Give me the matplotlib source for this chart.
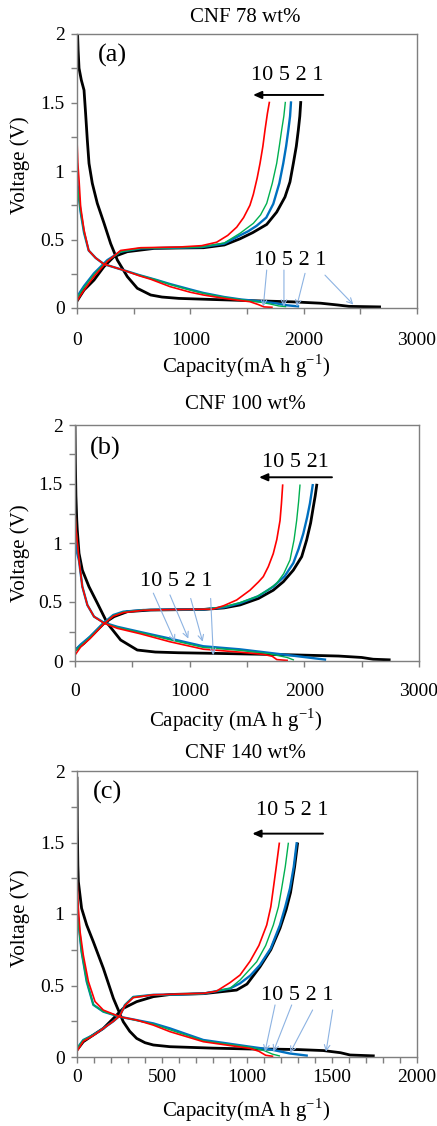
import matplotlib
matplotlib.use('Agg')
import matplotlib.pyplot as plt
from matplotlib.ticker import MultipleLocator

plt.rcParams['font.family'] = 'Liberation Serif'
plt.rcParams['mathtext.fontset'] = 'custom'
plt.rcParams['mathtext.rm'] = 'Liberation Serif'

# ---------------- (a) CNF 78 wt% ----------------
a_dis1_cap = [5, 10, 18, 38, 62, 76, 91, 106, 135, 179, 238, 297, 356, 444, 532, 650, 750, 900, 1200, 1600, 1900, 2150, 2300, 2400, 2670]
a_dis1_v = [2.0, 1.88, 1.75, 1.664, 1.59, 1.42, 1.226, 1.055, 0.91, 0.764, 0.62, 0.47, 0.35, 0.229, 0.144, 0.095, 0.08, 0.07, 0.062, 0.052, 0.045, 0.035, 0.022, 0.012, 0.008]
a_chg1_cap = [0, 30, 62, 150, 238, 326, 444, 680, 900, 1115, 1300, 1438, 1550, 1674, 1762, 1835, 1879, 1909, 1935, 1953, 1966, 1974]
a_chg1_v = [0.05, 0.09, 0.131, 0.204, 0.302, 0.375, 0.411, 0.435, 0.438, 0.44, 0.46, 0.505, 0.55, 0.61, 0.70, 0.81, 0.92, 1.056, 1.18, 1.30, 1.40, 1.5]

a_dis2_cap = [0, 5, 18, 32, 62, 103, 165, 238, 415, 550, 700, 821, 1000, 1115, 1300, 1450, 1600, 1750, 1850, 1950]
a_dis2_v = [1.05, 0.90, 0.80, 0.70, 0.55, 0.42, 0.365, 0.32, 0.275, 0.24, 0.205, 0.175, 0.135, 0.11, 0.08, 0.062, 0.05, 0.035, 0.02, 0.012]
a_chg2_cap = [0, 30, 62, 150, 268, 385, 562, 900, 1100, 1300, 1438, 1510, 1585, 1670, 1732, 1785, 1820, 1845, 1865, 1880, 1888]
a_chg2_v = [0.08, 0.12, 0.16, 0.253, 0.35, 0.411, 0.435, 0.44, 0.445, 0.47, 0.53, 0.56, 0.60, 0.66, 0.76, 0.91, 1.056, 1.18, 1.30, 1.40, 1.5]

a_dis5_cap = [0, 5, 18, 32, 62, 103, 165, 238, 415, 550, 700, 821, 1000, 1115, 1300, 1450, 1600, 1700, 1780, 1840]
a_dis5_v = [1.0, 0.88, 0.79, 0.70, 0.55, 0.42, 0.365, 0.32, 0.275, 0.24, 0.205, 0.172, 0.13, 0.107, 0.078, 0.06, 0.045, 0.03, 0.015, 0.01]
a_chg5_cap = [0, 30, 62, 150, 268, 385, 562, 900, 1100, 1300, 1438, 1556, 1620, 1674, 1723, 1762, 1785, 1806, 1825, 1838]
a_chg5_v = [0.07, 0.11, 0.15, 0.245, 0.345, 0.41, 0.435, 0.44, 0.445, 0.475, 0.545, 0.618, 0.68, 0.764, 0.91, 1.056, 1.18, 1.30, 1.40, 1.5]

a_dis10_cap = [0, 8, 18, 32, 62, 103, 165, 238, 415, 550, 650, 821, 1000, 1115, 1300, 1409, 1526, 1600, 1650, 1720]
a_dis10_v = [1.226, 1.05, 0.934, 0.74, 0.57, 0.42, 0.365, 0.32, 0.275, 0.235, 0.21, 0.156, 0.115, 0.095, 0.07, 0.058, 0.046, 0.025, 0.008, 0.005]
a_chg10_cap = [0, 30, 62, 150, 268, 385, 562, 900, 1100, 1232, 1330, 1409, 1470, 1526, 1556, 1590, 1615, 1640, 1659, 1680, 1697]
a_chg10_v = [0.05, 0.09, 0.13, 0.23, 0.34, 0.42, 0.44, 0.445, 0.455, 0.48, 0.53, 0.59, 0.66, 0.75, 0.83, 0.95, 1.056, 1.18, 1.30, 1.42, 1.5]

# ---------------- (b) CNF 100 wt% ----------------
b_dis1_cap = [0, 3, 8, 15, 20, 35, 64, 122, 195, 282, 398, 543, 700, 900, 1200, 1526, 1900, 2300, 2500, 2600, 2740]
b_dis1_v = [2.0, 1.7, 1.4, 1.2, 1.11, 0.913, 0.77, 0.63, 0.49, 0.32, 0.178, 0.093, 0.076, 0.07, 0.065, 0.059, 0.052, 0.042, 0.03, 0.015, 0.01]
b_chg1_cap = [0, 78, 166, 253, 340, 456, 659, 900, 1119, 1300, 1439, 1600, 1729, 1817, 1904, 1977, 2020, 2055, 2079, 2095, 2108]
b_chg1_v = [0.09, 0.15, 0.234, 0.32, 0.376, 0.418, 0.432, 0.435, 0.437, 0.45, 0.475, 0.53, 0.60, 0.672, 0.77, 0.884, 1.025, 1.17, 1.31, 1.40, 1.49]

b_dis2_cap = [0, 10, 35, 64, 108, 166, 253, 369, 573, 828, 1119, 1439, 1729, 2020, 2180]
b_dis2_v = [1.05, 0.95, 0.85, 0.63, 0.474, 0.376, 0.325, 0.29, 0.245, 0.19, 0.125, 0.099, 0.065, 0.031, 0.012]
b_chg2_cap = [0, 50, 131, 247, 334, 421, 596, 828, 1119, 1300, 1439, 1600, 1729, 1830, 1904, 1950, 1991, 2025, 2049, 2062, 2073]
b_chg2_v = [0.09, 0.14, 0.206, 0.32, 0.39, 0.418, 0.432, 0.435, 0.437, 0.455, 0.49, 0.55, 0.63, 0.72, 0.83, 0.95, 1.08, 1.22, 1.336, 1.42, 1.49]

b_dis5_cap = [0, 10, 35, 64, 108, 166, 253, 369, 573, 828, 1119, 1439, 1700, 1850, 1904]
b_dis5_v = [1.26, 1.11, 0.856, 0.63, 0.474, 0.376, 0.322, 0.285, 0.24, 0.18, 0.115, 0.09, 0.06, 0.03, 0.01]
b_chg5_cap = [0, 50, 131, 247, 334, 421, 596, 828, 1119, 1300, 1439, 1584, 1680, 1759, 1820, 1875, 1910, 1933, 1950, 1962]
b_chg5_v = [0.08, 0.13, 0.2, 0.315, 0.385, 0.415, 0.432, 0.435, 0.437, 0.46, 0.495, 0.545, 0.60, 0.658, 0.74, 0.856, 1.025, 1.19, 1.35, 1.49]

b_dis10_cap = [0, 10, 35, 64, 108, 166, 253, 369, 573, 828, 1119, 1439, 1650, 1720, 1760, 1850]
b_dis10_v = [1.265, 1.11, 0.856, 0.63, 0.474, 0.376, 0.32, 0.277, 0.23, 0.163, 0.1, 0.075, 0.055, 0.04, 0.012, 0.005]
b_chg10_cap = [0, 50, 131, 247, 334, 421, 596, 828, 1000, 1206, 1300, 1410, 1526, 1600, 1642, 1686, 1729, 1760, 1788, 1800, 1811]
b_chg10_v = [0.05, 0.12, 0.19, 0.31, 0.38, 0.41, 0.43, 0.435, 0.437, 0.44, 0.47, 0.517, 0.60, 0.67, 0.715, 0.80, 0.91, 1.03, 1.19, 1.33, 1.49]

# ---------------- (c) CNF 140 wt% ----------------
c_dis1_cap = [0, 2, 5, 8, 27, 57, 96, 155, 214, 272, 310, 351, 400, 449, 547, 800, 1018, 1155, 1300, 1449, 1550, 1606, 1743]
c_dis1_v = [1.95, 1.6, 1.34, 1.226, 1.04, 0.923, 0.806, 0.62, 0.41, 0.247, 0.18, 0.13, 0.10, 0.084, 0.072, 0.062, 0.056, 0.055, 0.052, 0.045, 0.03, 0.014, 0.008]
c_chg1_cap = [0, 37, 96, 155, 214, 272, 351, 449, 547, 743, 939, 1000, 1076, 1140, 1194, 1230, 1256, 1280, 1297]
c_chg1_v = [0.049, 0.107, 0.154, 0.2, 0.27, 0.34, 0.387, 0.422, 0.437, 0.443, 0.468, 0.51, 0.63, 0.75, 0.90, 1.03, 1.15, 1.33, 1.49]

c_dis2_cap = [0, 8, 27, 57, 96, 155, 253, 449, 547, 743, 1018, 1150, 1250, 1351]
c_dis2_v = [1.05, 0.947, 0.737, 0.528, 0.365, 0.317, 0.281, 0.235, 0.2, 0.119, 0.072, 0.05, 0.025, 0.01]
c_chg2_cap = [0, 37, 96, 155, 214, 253, 282, 331, 449, 600, 743, 900, 959, 1020, 1076, 1140, 1194, 1225, 1253, 1275, 1292]
c_chg2_v = [0.06, 0.119, 0.154, 0.2, 0.25, 0.29, 0.364, 0.42, 0.435, 0.437, 0.443, 0.479, 0.515, 0.57, 0.643, 0.76, 0.923, 1.05, 1.18, 1.33, 1.494]

c_dis5_cap = [0, 8, 27, 57, 96, 155, 253, 449, 547, 743, 1018, 1100, 1150, 1190]
c_dis5_v = [1.0, 0.93, 0.73, 0.528, 0.365, 0.317, 0.281, 0.23, 0.19, 0.113, 0.068, 0.045, 0.02, 0.008]
c_chg5_cap = [0, 37, 96, 155, 214, 253, 282, 331, 449, 600, 743, 900, 959, 1057, 1110, 1155, 1185, 1204, 1225, 1243]
c_chg5_v = [0.06, 0.119, 0.154, 0.2, 0.25, 0.29, 0.364, 0.42, 0.435, 0.437, 0.443, 0.48, 0.538, 0.666, 0.78, 0.923, 1.05, 1.18, 1.33, 1.494]

c_dis10_cap = [0, 8, 18, 37, 67, 106, 155, 253, 351, 449, 547, 743, 1018, 1070, 1110, 1150]
c_dis10_v = [1.26, 1.04, 0.877, 0.713, 0.528, 0.388, 0.328, 0.281, 0.258, 0.223, 0.177, 0.107, 0.06, 0.04, 0.012, 0.005]
c_chg10_cap = [0, 37, 96, 155, 214, 253, 282, 331, 449, 600, 743, 820, 900, 959, 1018, 1070, 1116, 1140, 1155, 1172, 1190]
c_chg10_v = [0.04, 0.11, 0.15, 0.2, 0.25, 0.29, 0.36, 0.415, 0.435, 0.44, 0.445, 0.46, 0.52, 0.573, 0.67, 0.78, 0.923, 1.05, 1.18, 1.33, 1.494]

titles = ['CNF 78 wt%', 'CNF 100 wt%', 'CNF 140 wt%']
tags = ['(a)', '(b)', '(c)']
xlabels = [r'Capacity(mA h g$^{\mathregular{-1}}$)', r'Capacity (mA h g$^{\mathregular{-1}}$)',
           r'Capacity(mA h g$^{\mathregular{-1}}$)']
xmax = [3000, 3000, 2000]
upper_txt = ['10 5 2 1', '10 5 21', '10 5 2 1']
lower_txt = ['10 5 2 1', '10 5 2 1', '10 5 2 1']

# label positions / arrows (data coords: capacity, voltage)
upper_pos = [(1853, 1.70), (1925, 1.68), (1268, 1.725)]
upper_arrow = [((2173, 1.555), (1553, 1.555)), ((2241, 1.557), (1605, 1.557)), ((1447, 1.562), (1031, 1.562))]
lower_pos = [(1880, 0.35), (880, 0.67), (1297, 0.43)]
lower_arrows = [
    [((1674, 0.277), (1644, 0.01)), ((1826, 0.277), (1826, 0.01)), ((2012, 0.253), (1938, 0.01)), ((2188, 0.24), (2438, 0.025))],
    [((683, 0.575), (872, 0.164)), ((828, 0.56), (988, 0.19)), ((1009, 0.53), (1113, 0.164)), ((1183, 0.53), (1206, 0.05))],
    [((1165, 0.364), (1106, 0.037)), ((1263, 0.364), (1155, 0.037)), ((1386, 0.329), (1253, 0.028)), ((1504, 0.329), (1465, 0.037))],
]

curves = [
    [(1, a_dis1_cap, a_dis1_v, a_chg1_cap, a_chg1_v), (2, a_dis2_cap, a_dis2_v, a_chg2_cap, a_chg2_v),
     (5, a_dis5_cap, a_dis5_v, a_chg5_cap, a_chg5_v), (10, a_dis10_cap, a_dis10_v, a_chg10_cap, a_chg10_v)],
    [(1, b_dis1_cap, b_dis1_v, b_chg1_cap, b_chg1_v), (2, b_dis2_cap, b_dis2_v, b_chg2_cap, b_chg2_v),
     (5, b_dis5_cap, b_dis5_v, b_chg5_cap, b_chg5_v), (10, b_dis10_cap, b_dis10_v, b_chg10_cap, b_chg10_v)],
    [(1, c_dis1_cap, c_dis1_v, c_chg1_cap, c_chg1_v), (2, c_dis2_cap, c_dis2_v, c_chg2_cap, c_chg2_v),
     (5, c_dis5_cap, c_dis5_v, c_chg5_cap, c_chg5_v), (10, c_dis10_cap, c_dis10_v, c_chg10_cap, c_chg10_v)],
]

colors = {1: 'black', 2: '#0070C0', 5: '#00B050', 10: '#FF0000'}
widths = {1: 2.0, 2: 1.7, 5: 1.0, 10: 1.2}

W, H = 437, 1126
fig = plt.figure(figsize=(W / 100, H / 100), dpi=100)

# axes boxes in pixels: left, top, right, bottom
boxes = [(77, 34, 417, 308), (75, 425, 419, 661), (77, 771, 417, 1057)]
title_y = [18, 405, 753]
xpad = [13, 11.5, 5]
xlab_y = [366, 720, 1110]
xlab_x = [246, 236, 246]
ylab_y = [165, 553, 918]
tag_pos = [(112, 55), (105, 448), (107, 792)]
gray = '#7f7f7f'

for i in range(3):
    l, t, r, b = boxes[i]
    ax = fig.add_axes([l / W, 1 - b / H, (r - l) / W, (b - t) / H])
    for cyc, dc, dv, cc, cv in curves[i]:
        ax.plot(dc, dv, color=colors[cyc], lw=widths[cyc], solid_joinstyle='round')
        ax.plot(cc, cv, color=colors[cyc], lw=widths[cyc], solid_joinstyle='round')

    ax.set_xlim(0, xmax[i])
    ax.set_ylim(0, 2)
    ax.yaxis.set_major_locator(MultipleLocator(0.5))
    ax.yaxis.set_minor_locator(MultipleLocator(0.25))
    if xmax[i] == 3000:
        ax.xaxis.set_major_locator(MultipleLocator(1000))
        ax.xaxis.set_minor_locator(MultipleLocator(500))
    else:
        ax.xaxis.set_major_locator(MultipleLocator(500))
        ax.xaxis.set_minor_locator(MultipleLocator(100))
    ax.yaxis.set_major_formatter(plt.FuncFormatter(lambda v, p: f'{v:g}'))
    for s in ax.spines.values():
        s.set_color(gray)
        s.set_linewidth(1.0)
    ax.tick_params(which='both', direction='out', length=4, width=1, color=gray, labelsize=14)
    ax.tick_params(axis='x', which='major', pad=xpad[i])
    ax.tick_params(axis='y', which='major', pad=5)

    ax.set_xlabel(xlabels[i], fontsize=15, va='center')
    ax.xaxis.set_label_coords((xlab_x[i] - l) / (r - l), (b - xlab_y[i]) / (b - t))
    ax.set_ylabel('Voltage (V)', fontsize=15, va='center')
    ax.yaxis.set_label_coords((20 - l) / (r - l), (b - ylab_y[i]) / (b - t))

    fig.text(245 / W, 1 - title_y[i] / H, titles[i], fontsize=15, ha='center', va='center')
    tx, ty = tag_pos[i]
    ax.text((tx - l) / (r - l), (b - ty) / (b - t), tags[i], transform=ax.transAxes,
            fontsize=19, ha='center', va='center')

    ax.text(*upper_pos[i], upper_txt[i], fontsize=16, ha='center', va='center')
    (x0, y0), (x1, y1) = upper_arrow[i]
    ax.annotate('', xy=(x1, y1), xytext=(x0, y0),
                arrowprops=dict(arrowstyle='-|>,head_length=0.5,head_width=0.22', color='black', lw=1.4,
                                shrinkA=0, shrinkB=0))

    ax.text(*lower_pos[i], lower_txt[i], fontsize=16, ha='center', va='center')
    for (x0, y0), (x1, y1) in lower_arrows[i]:
        ax.annotate('', xy=(x1, y1), xytext=(x0, y0),
                    arrowprops=dict(arrowstyle='->,head_length=0.4,head_width=0.2', color='#8db3e2', lw=0.8,
                                    shrinkA=0, shrinkB=0))

fig.savefig('out.png', dpi=100)
